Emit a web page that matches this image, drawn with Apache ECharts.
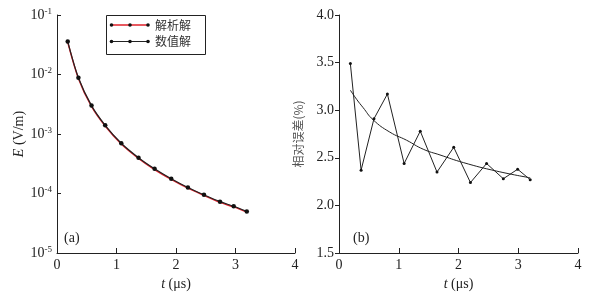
<!DOCTYPE html>
<html>
<head>
<meta charset="utf-8">
<script src="https://cdn.jsdelivr.net/npm/echarts@6/dist/echarts.min.js"></script>
<style>html,body{margin:0;padding:0;background:#fff;}#c{width:606px;height:298px;}</style>
</head>
<body>
<div id="c"></div>
<script>
// ---- data ----
const tTime = [0.18, 0.36, 0.58, 0.81, 1.08, 1.37, 1.64, 1.92, 2.2, 2.47, 2.74, 2.97, 3.19];
const eNumeric = [0.036, 0.0088, 0.0030, 0.0014, 7.0e-4, 4.0e-4, 2.6e-4, 1.77e-4, 1.26e-4, 9.5e-5, 7.3e-5, 6.1e-5, 5.0e-5];
const eAnalytic = [0.035, 0.0086, 0.0029, 0.00136, 6.8e-4, 3.9e-4, 2.53e-4, 1.73e-4, 1.23e-4, 9.3e-5, 7.1e-5, 5.95e-5, 4.88e-5];
const tErr = [0.19, 0.37, 0.585, 0.81, 1.09, 1.36, 1.64, 1.92, 2.2, 2.47, 2.75, 2.99, 3.2];
const errValues = [3.49, 2.37, 2.91, 3.17, 2.44, 2.78, 2.35, 2.61, 2.24, 2.44, 2.28, 2.38, 2.27];
const tTrend = [0.19, 0.3, 0.4, 0.57, 0.85, 1.13, 1.41, 1.69, 2.08, 2.64, 3.2];
const errTrend = [3.21, 3.11, 3.03, 2.90, 2.77, 2.685, 2.59, 2.53, 2.45, 2.36, 2.29];
const xTicks = [0, 1, 2, 3, 4];
const seriesNames = ['解析解', '数值解'];
const panelLabels = ['(a)', '(b)'];

const serif = 'Liberation Serif';
const cjk = 'Noto Sans CJK SC';
const ink = '#222';

const zip = (a, b) => a.map((v, i) => [v, b[i]]);

const chart = echarts.init(document.getElementById('c'), null, {renderer: 'canvas'});

const xAxisBase = (gi) => ({
  type: 'value', gridIndex: gi, min: xTicks[0], max: xTicks[xTicks.length - 1], interval: 1,
  axisLine: {show: true, lineStyle: {color: ink, width: 1}},
  axisTick: {show: true, inside: true, length: 5, lineStyle: {color: ink}},
  axisLabel: {color: ink, fontFamily: serif, fontSize: 14, margin: 5},
  splitLine: {show: false},
  name: '{i|t} (μs)', nameLocation: 'middle', nameGap: 24,
  nameTextStyle: {color: ink, fontFamily: serif, fontSize: 14, rich: {i: {fontStyle: 'italic', fontFamily: serif, fontSize: 14, color: ink}}}
});

const option = {
  backgroundColor: '#fff',
  animation: false,
  grid: [
    {left: 57, top: 15, width: 238, height: 238},
    {left: 339, top: 15, width: 239, height: 238}
  ],
  xAxis: [xAxisBase(0), xAxisBase(1)],
  yAxis: [
    {
      type: 'log', gridIndex: 0, logBase: 10, min: 1e-5, max: 1e-1,
      axisLine: {show: true, lineStyle: {color: ink, width: 1}},
      axisTick: {show: true, inside: true, length: 4, lineStyle: {color: ink}},
      minorTick: {show: false},
      splitLine: {show: false},
      axisLabel: {
        margin: 5, color: ink,
        formatter: v => '{a|10}{b|' + Math.round(Math.log10(v)) + '}',
        rich: {
          a: {fontFamily: serif, fontSize: 14, color: ink},
          b: {fontFamily: serif, fontSize: 9, color: ink, verticalAlign: 'top', padding: [0, 0, 7, 0]}
        }
      },
      name: '{i|E} (V/m)', nameLocation: 'middle', nameGap: 27, nameRotate: 90,
      nameTextStyle: {color: ink, fontFamily: serif, fontSize: 14, rich: {i: {fontStyle: 'italic', fontFamily: serif, fontSize: 14, color: ink}}}
    },
    {
      type: 'value', gridIndex: 1, min: 1.5, max: 4.0, interval: 0.5,
      axisLine: {show: true, lineStyle: {color: ink, width: 1}},
      axisTick: {show: true, inside: false, length: 4, lineStyle: {color: ink}},
      splitLine: {show: false},
      axisLabel: {margin: 5, color: ink, fontFamily: serif, fontSize: 14, formatter: v => v.toFixed(1)},
      name: '相对误差(%)', nameLocation: 'middle', nameGap: 35, nameRotate: 90,
      nameTextStyle: {color: '#555', fontFamily: cjk, fontSize: 12}
    }
  ],
  series: [
    {
      name: seriesNames[0], type: 'line', xAxisIndex: 0, yAxisIndex: 0,
      data: zip(tTime, eAnalytic), smooth: 0.3,
      lineStyle: {color: '#e0202a', width: 1.5},
      symbol: 'none', z: 2
    },
    {
      name: seriesNames[1], type: 'line', xAxisIndex: 0, yAxisIndex: 0,
      data: zip(tTime, eNumeric), smooth: 0.3,
      lineStyle: {color: '#222', width: 1.2},
      symbol: 'circle', symbolSize: 4.5, itemStyle: {color: '#111'}, z: 3
    },
    {
      name: 'error', type: 'line', xAxisIndex: 1, yAxisIndex: 1,
      data: zip(tErr, errValues),
      lineStyle: {color: '#222', width: 1},
      symbol: 'circle', symbolSize: 3, itemStyle: {color: '#111'}
    },
    {
      name: 'trend', type: 'line', xAxisIndex: 1, yAxisIndex: 1,
      data: zip(tTrend, errTrend), smooth: 0.5,
      lineStyle: {color: '#222', width: 1},
      symbol: 'none'
    }
  ],
  graphic: [
    {type: 'rect', shape: {x: 106.5, y: 15.5, width: 99, height: 39}, style: {fill: '#fff', stroke: '#222', lineWidth: 1}, z: 10},
    {type: 'line', shape: {x1: 111, y1: 25, x2: 148, y2: 25}, style: {stroke: '#e0202a', lineWidth: 1.5}, z: 11},
    {type: 'circle', shape: {cx: 111.5, cy: 25, r: 1.8}, style: {fill: '#111'}, z: 12},
    {type: 'circle', shape: {cx: 130, cy: 25, r: 1.8}, style: {fill: '#111'}, z: 12},
    {type: 'circle', shape: {cx: 148, cy: 25, r: 1.8}, style: {fill: '#111'}, z: 12},
    {type: 'line', shape: {x1: 111, y1: 41.5, x2: 148, y2: 41.5}, style: {stroke: '#222', lineWidth: 1.2}, z: 11},
    {type: 'circle', shape: {cx: 111.5, cy: 41.5, r: 1.8}, style: {fill: '#111'}, z: 12},
    {type: 'circle', shape: {cx: 130, cy: 41.5, r: 1.8}, style: {fill: '#111'}, z: 12},
    {type: 'circle', shape: {cx: 148, cy: 41.5, r: 1.8}, style: {fill: '#111'}, z: 12},
    {type: 'text', x: 155, y: 25, style: {text: seriesNames[0], font: '12px "Noto Sans CJK SC"', fill: '#333', verticalAlign: 'middle'}, z: 12},
    {type: 'text', x: 155, y: 41.5, style: {text: seriesNames[1], font: '12px "Noto Sans CJK SC"', fill: '#333', verticalAlign: 'middle'}, z: 12},
    {type: 'text', x: 64, y: 238, style: {text: panelLabels[0], font: '14px "Liberation Serif"', fill: ink, verticalAlign: 'middle'}, z: 12},
    {type: 'text', x: 353, y: 238, style: {text: panelLabels[1], font: '14px "Liberation Serif"', fill: ink, verticalAlign: 'middle'}, z: 12}
  ]
};
chart.setOption(option);
</script>
</body>
</html>
